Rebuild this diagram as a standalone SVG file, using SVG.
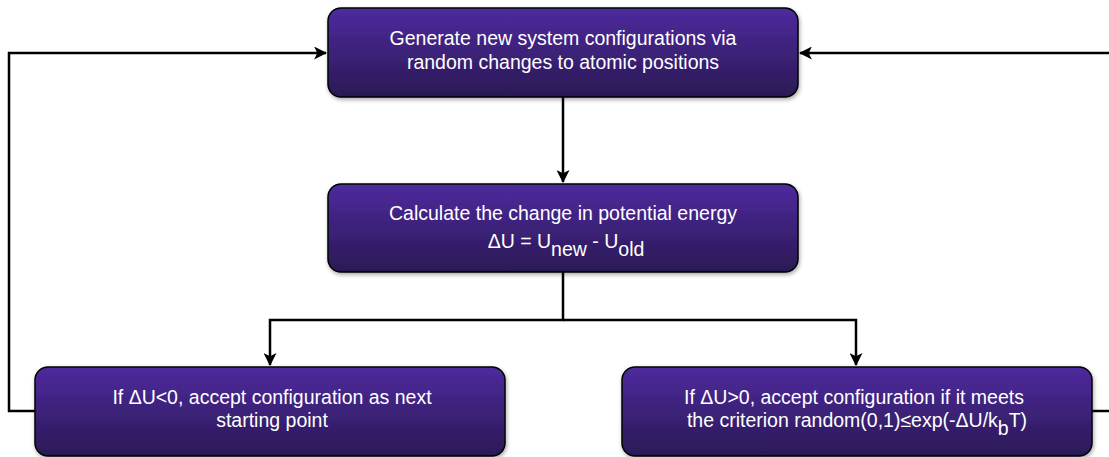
<svg xmlns="http://www.w3.org/2000/svg" width="1109" height="457" viewBox="0 0 1109 457">
<defs>
<linearGradient id="g" x1="0" y1="0" x2="0" y2="1">
<stop offset="0" stop-color="#4e2a9e"/>
<stop offset="1" stop-color="#2a1954"/>
</linearGradient>
<filter id="sh" x="-5%" y="-10%" width="110%" height="125%">
<feGaussianBlur in="SourceAlpha" stdDeviation="2"/>
<feOffset dx="1" dy="2"/>
<feComponentTransfer><feFuncA type="linear" slope="0.35"/></feComponentTransfer>
<feMerge><feMergeNode/><feMergeNode in="SourceGraphic"/></feMerge>
</filter>
<marker id="ah" viewBox="0 0 12 12" refX="11" refY="6" markerWidth="13" markerHeight="13" markerUnits="userSpaceOnUse" orient="auto">
<path d="M0,0 L12,6 L0,12 L3,6 Z" fill="#000"/>
</marker>
<style>
.box{fill:url(#g);stroke:#000;stroke-width:1.5;filter:url(#sh)}
.t{font-family:"Liberation Sans",Arial,sans-serif;font-size:19.5px;fill:#fff;text-anchor:middle}
.c{fill:none;stroke:#000;stroke-width:2.5}
</style>
</defs>
<g id="connectors">
<path class="c" d="M563,97 V182" marker-end="url(#ah)"/>
<path class="c" d="M563,272 V320 H270 V365" marker-end="url(#ah)"/>
<path class="c" d="M563,320 H856 V365" marker-end="url(#ah)"/>
<path class="c" d="M35,411 H9 V53 H326" marker-end="url(#ah)"/>
<path class="c" d="M1109,53 H800" marker-end="url(#ah)"/>
<path class="c" d="M1092,411 H1109"/>
</g>
<g id="n1">
<rect class="box" x="328" y="8" width="470" height="89" rx="13"/>
<text class="t" x="563" y="45">Generate new system configurations via</text>
<text class="t" x="563" y="69">random changes to atomic positions</text>
</g>
<g id="n2">
<rect class="box" x="328" y="184" width="470" height="88" rx="13"/>
<text class="t" x="563" y="220">Calculate the change in potential energy</text>
<text class="t" x="566" y="248">ΔU = U<tspan dy="8">new</tspan><tspan dy="-8"> - U</tspan><tspan dy="8">old</tspan></text>
</g>
<g id="n3">
<rect class="box" x="35" y="367" width="470" height="89" rx="13"/>
<text class="t" x="272" y="404">If ΔU&lt;0, accept configuration as next</text>
<text class="t" x="272" y="427">starting point</text>
</g>
<g id="n4">
<rect class="box" x="622" y="367" width="470" height="89" rx="13"/>
<text class="t" x="854" y="404">If ΔU&gt;0, accept configuration if it meets</text>
<text class="t" x="857" y="427">the criterion random(0,1)≤exp(-ΔU/k<tspan dy="8">b</tspan><tspan dy="-8">T)</tspan></text>
</g>
</svg>
